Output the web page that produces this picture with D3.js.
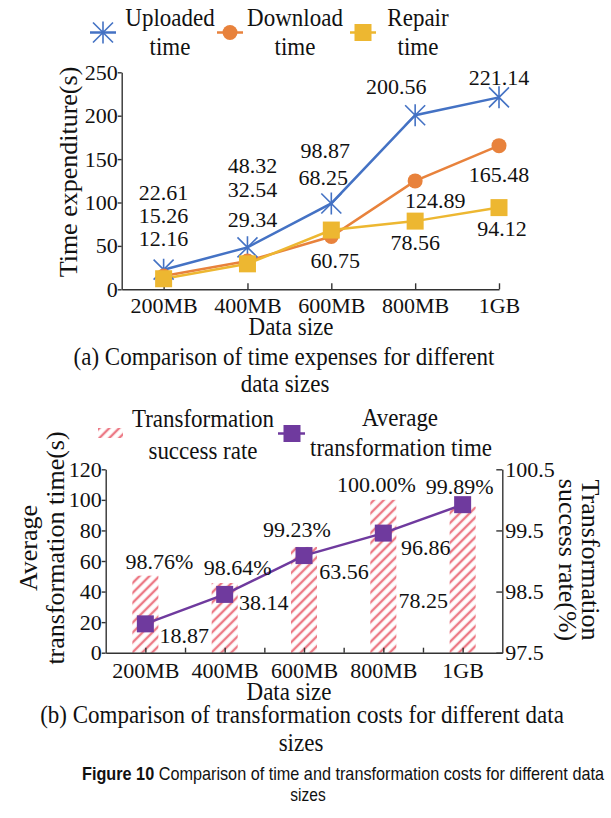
<!DOCTYPE html>
<html>
<head>
<meta charset="utf-8">
<script src="https://cdn.jsdelivr.net/npm/d3@7"></script>
<style>
  html, body { margin: 0; padding: 0; background: #fff; }
  svg { display: block; }
  text { font-family: "Liberation Serif", "Times New Roman", serif; fill: #111; }
  .axis path, .axis line { stroke: #333; stroke-width: 1.4; }
  .axis text { font-family: "Liberation Serif", serif; font-size: 22px; fill: #111; }
</style>
</head>
<body>
<div id="chart"></div>
<script>
// data
const sizes = ["200MB", "400MB", "600MB", "800MB", "1GB"];
const uploaded = [22.61, 48.32, 98.87, 200.56, 221.14];
const download = [15.26, 32.54, 60.75, 124.89, 165.48];
const repair = [12.16, 29.34, 68.25, 78.56, 94.12];
const successRate = [98.76, 98.64, 99.23, 100.0, 99.89];
const avgTime = [18.87, 38.14, 63.56, 78.25, 96.86];
const ticksA = [0, 50, 100, 150, 200, 250];
const ticksBLeft = [0, 20, 40, 60, 80, 100, 120];
const ticksBRight = [97.5, 98.5, 99.5, 100.5];

// label nudges (px), the figure places them by hand
const upShift = [[0, -70], [5, -74], [-6, -45], [-19, -21], [0, -12]];
const downShift = [[0, -53], [5, -64], [4, 31], [20, 27], [0, 36]];
const repShift = [[0, -33], [5, -37], [-8, -45], [0, 29], [3, 28]];
const rateShift = [[14, -7], [13, -8], [-7, -10], [-7, -8], [-3, -13]];
const timeShift = [[39, 19], [39, 16], [40, 23], [40, 75], [-37, 50]];

const W = 611, H = 818;
const blue = "#4472C4", orange = "#E8823C", gold = "#EDB731", purple = "#6F3A9E";
const fmt = d3.format(".2f");
const tall = 1.12; // the figure's text is drawn a bit taller than wide

const svg = d3.select("#chart").append("svg")
  .attr("width", W).attr("height", H)
  .attr("viewBox", [0, 0, W, H]);

svg.append("rect").attr("width", W).attr("height", H).attr("fill", "#fff");

const addText = (g, x, y, str, size, opts = {}) => {
  const rot = opts.rotate || 0;
  const sy = opts.stretch || 1;
  return g.append("text")
    .attr("transform", `translate(${x},${y}) scale(1,${sy}) rotate(${rot})`)
    .attr("text-anchor", opts.anchor || "middle")
    .attr("font-size", size)
    .text(str);
};

const defs = svg.append("defs");
const hatch = defs.append("pattern")
  .attr("id", "hatch")
  .attr("patternUnits", "userSpaceOnUse")
  .attr("width", 7).attr("height", 7)
  .attr("patternTransform", "rotate(45)");
hatch.append("rect").attr("width", 7).attr("height", 7).attr("fill", "#fff");
hatch.append("line")
  .attr("x1", 2).attr("x2", 2).attr("y1", 0).attr("y2", 7)
  .attr("stroke", "#EC7A86").attr("stroke-width", 2.4);

// ---------- (a) time expenses ----------
const xa = d3.scaleLinear().domain([0.5, 5]).range([121.7, 499]);
const ya = d3.scaleLinear().domain([0, 250]).range([289.3, 72.3]);

const ga = svg.append("g");

ga.append("g")
  .attr("class", "axis")
  .attr("transform", `translate(0,${ya(0)})`)
  .call(d3.axisBottom(xa)
    .tickValues(d3.range(1, sizes.length + 1))
    .tickFormat((d) => sizes[d - 1])
    .tickSizeInner(-6).tickSizeOuter(0).tickPadding(8.5));

ga.append("g")
  .attr("class", "axis")
  .attr("transform", `translate(${xa(0.5)},0)`)
  .call(d3.axisLeft(ya).tickValues(ticksA).tickSizeInner(4).tickSizeOuter(0).tickPadding(0));

const seriesA = [
  { name: ["Uploaded", "time"], values: uploaded, color: blue, marker: "star", shift: upShift },
  { name: ["Download", "time"], values: download, color: orange, marker: "circle", shift: downShift },
  { name: ["Repair", "time"], values: repair, color: gold, marker: "square", shift: repShift },
];

const lineA = d3.line().x((d, i) => xa(i + 1)).y((d) => ya(d));

const drawMarker = (g, type, color) => {
  if (type === "star") {
    const r = 10;
    g.append("path")
      .attr("d", `M${-r},${-r}L${r},${r}M${-r},${r}L${r},${-r}M0,${-r * 1.1}L0,${r * 1.1}`)
      .attr("stroke", color).attr("stroke-width", 1.6).attr("fill", "none");
  } else if (type === "circle") {
    g.append("circle").attr("r", 7.5).attr("fill", color);
  } else {
    g.append("rect").attr("x", -8.5).attr("y", -8.5).attr("width", 17).attr("height", 17).attr("fill", color);
  }
};

seriesA.forEach((s) => {
  ga.append("path")
    .datum(s.values)
    .attr("d", lineA)
    .attr("fill", "none")
    .attr("stroke", s.color)
    .attr("stroke-width", 2.5);
});

seriesA.forEach((s) => {
  s.values.forEach((v, i) => {
    const m = ga.append("g").attr("transform", `translate(${xa(i + 1)},${ya(v)})`);
    drawMarker(m, s.marker, s.color);
  });
});

seriesA.forEach((s) => {
  ga.selectAll(null)
    .data(s.values)
    .join("text")
    .attr("x", (d, i) => xa(i + 1) + s.shift[i][0])
    .attr("y", (d, i) => ya(d) + s.shift[i][1])
    .attr("text-anchor", "middle")
    .attr("font-size", 22)
    .text((d) => fmt(d));
});

// legend (a)
const legA = [
  { cx: 103, tx: 170 },
  { cx: 230, tx: 295 },
  { cx: 363, tx: 418 },
];
seriesA.forEach((s, i) => {
  const p = legA[i];
  ga.append("line")
    .attr("x1", p.cx - 13).attr("x2", p.cx + 13)
    .attr("y1", 32.5).attr("y2", 32.5)
    .attr("stroke", s.color).attr("stroke-width", 2.5);
  const m = ga.append("g").attr("transform", `translate(${p.cx},32.5)`);
  drawMarker(m, s.marker, s.color);
  addText(ga, p.tx, 26, s.name[0], 23, { stretch: tall });
  addText(ga, p.tx, 55, s.name[1], 23, { stretch: tall });
});

addText(ga, 77, 172, "Time expenditure(s)", 26, { rotate: -90 });
addText(ga, 291, 335, "Data size", 23, { stretch: tall });
addText(ga, 284, 365, "(a) Comparison of time expenses for different", 23, { stretch: tall });
addText(ga, 285, 392, "data sizes", 23, { stretch: tall });

// ---------- (b) transformation costs ----------
const xb = d3.scaleLinear().domain([0.5, 5.5]).range([105.7, 502.3]);
const ybl = d3.scaleLinear().domain([0, 120]).range([652.7, 469.3]);
const ybr = d3.scaleLinear().domain([97.5, 100.5]).range([652.7, 469.3]);
const barW = 26;

const gb = svg.append("g");

gb.selectAll(".bar")
  .data(successRate)
  .join("rect")
  .attr("class", "bar")
  .attr("x", (d, i) => xb(i + 1) - barW / 2)
  .attr("y", (d) => ybr(d))
  .attr("width", barW)
  .attr("height", (d) => ybr(97.5) - ybr(d))
  .attr("fill", "url(#hatch)");

gb.append("g")
  .attr("class", "axis")
  .attr("transform", `translate(0,${ybl(0)})`)
  .call(d3.axisBottom(xb)
    .tickValues(d3.range(1, sizes.length + 1))
    .tickFormat((d) => sizes[d - 1])
    .tickSizeInner(-5).tickSizeOuter(0).tickPadding(9.3));

gb.append("g")
  .attr("class", "axis")
  .attr("transform", `translate(0,${ybl(0)})`)
  .call(d3.axisBottom(xb)
    .tickValues([1.5, 2.5, 3.5, 4.5])
    .tickFormat(() => "")
    .tickSizeInner(-5).tickSizeOuter(0))
  .select(".domain").remove();

gb.append("g")
  .attr("class", "axis")
  .attr("transform", `translate(${xb(0.5)},0)`)
  .call(d3.axisLeft(ybl).tickValues(ticksBLeft).tickSizeInner(4).tickSizeOuter(0).tickPadding(0));

gb.append("g")
  .attr("class", "axis")
  .attr("transform", `translate(${xb(5.5)},0)`)
  .call(d3.axisRight(ybr).tickValues(ticksBRight).tickFormat(d3.format(".1f"))
    .tickSizeInner(-6).tickSizeOuter(0).tickPadding(3));

const lineB = d3.line().x((d, i) => xb(i + 1)).y((d) => ybl(d));
gb.append("path")
  .datum(avgTime)
  .attr("d", lineB)
  .attr("fill", "none")
  .attr("stroke", purple)
  .attr("stroke-width", 2.5);

gb.selectAll(".mk")
  .data(avgTime)
  .join("rect")
  .attr("class", "mk")
  .attr("x", (d, i) => xb(i + 1) - 8.5)
  .attr("y", (d) => ybl(d) - 8.5)
  .attr("width", 17).attr("height", 17)
  .attr("fill", purple);

gb.selectAll(".rateLbl")
  .data(successRate)
  .join("text")
  .attr("class", "rateLbl")
  .attr("x", (d, i) => xb(i + 1) + rateShift[i][0])
  .attr("y", (d, i) => ybr(d) + rateShift[i][1])
  .attr("text-anchor", "middle").attr("font-size", 22)
  .text((d) => fmt(d) + "%");

gb.selectAll(".timeLbl")
  .data(avgTime)
  .join("text")
  .attr("class", "timeLbl")
  .attr("x", (d, i) => xb(i + 1) + timeShift[i][0])
  .attr("y", (d, i) => ybl(d) + timeShift[i][1])
  .attr("text-anchor", "middle").attr("font-size", 22)
  .text((d) => fmt(d));

// legend (b)
gb.append("rect")
  .attr("x", 98).attr("y", 428).attr("width", 25).attr("height", 10)
  .attr("fill", "url(#hatch)");
addText(gb, 203, 427, "Transformation", 23, { stretch: tall });
addText(gb, 203, 459, "success rate", 23, { stretch: tall });

gb.append("line")
  .attr("x1", 278).attr("x2", 305).attr("y1", 433.5).attr("y2", 433.5)
  .attr("stroke", purple).attr("stroke-width", 2.5);
gb.append("rect")
  .attr("x", 283.5).attr("y", 425).attr("width", 17).attr("height", 17)
  .attr("fill", purple);
addText(gb, 400, 426, "Average", 23, { stretch: tall });
addText(gb, 401, 456, "transformation time", 23, { stretch: tall });

addText(gb, 37, 548, "Average", 26, { rotate: -90 });
addText(gb, 64, 548, "transformation time(s)", 26, { rotate: -90 });
addText(gb, 582, 560, "Transformation", 26, { rotate: 90 });
addText(gb, 559, 560, "success rate(%)", 26, { rotate: 90 });

addText(gb, 289, 700, "Data size", 23, { stretch: tall });
addText(gb, 302, 723, "(b) Comparison of transformation costs for different data", 23, { stretch: tall });
addText(gb, 301, 751, "sizes", 23, { stretch: tall });

// figure caption, narrow sans like the journal's
const cap = svg.append("text")
  .attr("transform", "translate(82,780) scale(1,1.13)")
  .attr("font-size", 15.5)
  .attr("textLength", 522).attr("lengthAdjust", "spacingAndGlyphs")
  .style("font-family", "'Liberation Sans', Arial, sans-serif");
cap.append("tspan").attr("font-weight", "bold").text("Figure 10");
cap.append("tspan").text(" Comparison of time and transformation costs for different data");
svg.append("text")
  .attr("transform", "translate(308,801) scale(1,1.13)")
  .attr("text-anchor", "middle").attr("font-size", 15.5)
  .style("font-family", "'Liberation Sans', Arial, sans-serif")
  .text("sizes");
</script>
</body>
</html>
